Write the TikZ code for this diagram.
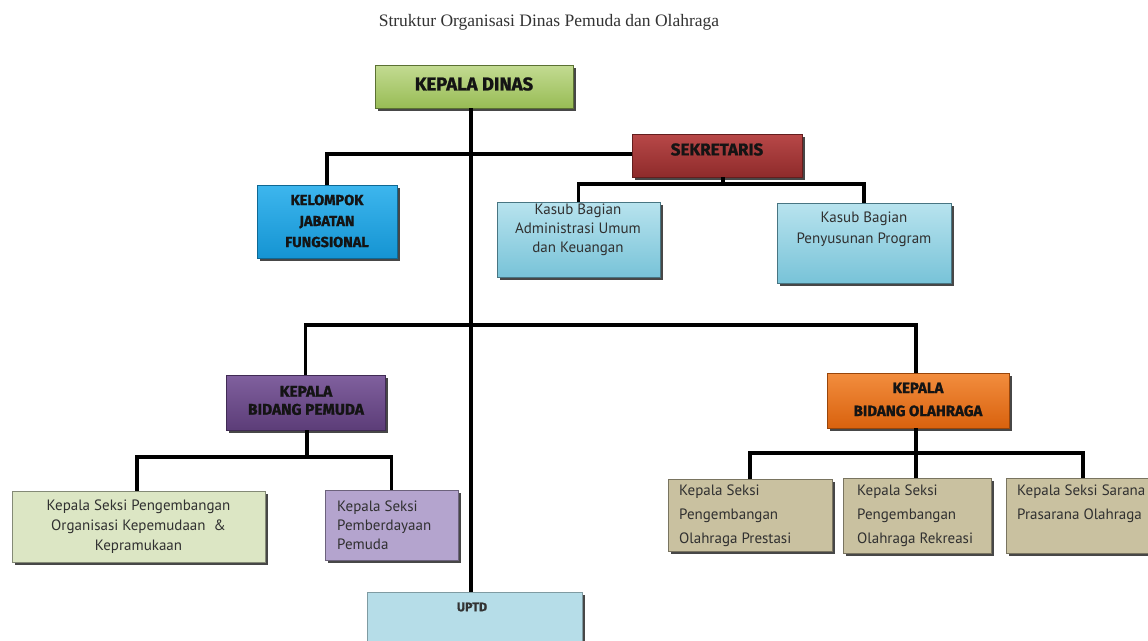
\documentclass[tikz,border=0pt]{standalone}
\usepackage{fontspec}
\setmainfont{PT Sans}
\newfontfamily\hdr{Fira Sans}[BoldFeatures={FakeBold=1.2}]
\newfontfamily\ttl{Liberation Serif}
\usetikzlibrary{shadows,calc}
\definecolor{kdtop}{HTML}{C3DB92}
\definecolor{kdbot}{HTML}{98BC55}
\definecolor{sektop}{HTML}{B84848}
\definecolor{sekbot}{HTML}{8E2B2B}
\definecolor{kjftop}{HTML}{3DB6EE}
\definecolor{kjfbot}{HTML}{1594D2}
\definecolor{kstop}{HTML}{B8E3EE}
\definecolor{ksbot}{HTML}{78C3D8}
\definecolor{kbptop}{HTML}{80609E}
\definecolor{kbpbot}{HTML}{5C3D78}
\definecolor{kbotop}{HTML}{F28D3E}
\definecolor{kbobot}{HTML}{D9620E}
\definecolor{spone}{HTML}{DCE6C4}
\definecolor{sptwo}{HTML}{B4A4CE}
\definecolor{sofill}{HTML}{C9C1A0}
\definecolor{uptdfill}{HTML}{B6DDE8}
\definecolor{txtgray}{HTML}{303030}
\tikzset{
  bx/.style={rectangle, inner sep=0pt, line width=0.5pt,
    drop shadow={shadow xshift=2.5pt, shadow yshift=-2.5pt, fill=black!80, opacity=0.9}},
  hdrtxt/.style={inner sep=0pt, align=center, text=black!92},
  bodytxt/.style={inner sep=0pt, text=txtgray, font=\fontsize{15}{19}\selectfont},
  conn/.style={line width=3.6pt, black},
}
\begin{document}
\begin{tikzpicture}[x=1pt,y=-1pt]
\useasboundingbox (0,0) rectangle (1148,640);
\clip (0,0) rectangle (1148,640);
\fill[white] (0,0) rectangle (1148,640);

\node[inner sep=0pt, text=black!80, font=\ttl\fontsize{17.5}{20}\selectfont] (title) at (549,22) {Struktur Organisasi Dinas Pemuda dan Olahraga};

% boxes
\node[bx, draw=kdbot!60!black, top color=kdtop, bottom color=kdbot, minimum width=198pt, minimum height=43pt] (kd) at (474,86.5) {};
\node[bx, draw=sekbot!70!black, top color=sektop, bottom color=sekbot, minimum width=170pt, minimum height=43pt] (sek) at (717,155.5) {};
\node[bx, draw=kjfbot!70!black, top color=kjftop, bottom color=kjfbot, minimum width=140pt, minimum height=73pt] (kjf) at (327,221.5) {};
\node[bx, draw=ksbot!60!black, top color=kstop, bottom color=ksbot, minimum width=163pt, minimum height=75pt] (ka) at (578.5,239.5) {};
\node[bx, draw=ksbot!60!black, top color=kstop, bottom color=ksbot, minimum width=174pt, minimum height=80pt] (kp) at (864,243) {};
\node[bx, draw=kbpbot!70!black, top color=kbptop, bottom color=kbpbot, minimum width=159pt, minimum height=55pt] (kbp) at (305.5,402.5) {};
\node[bx, draw=kbobot!70!black, top color=kbotop, bottom color=kbobot, minimum width=182pt, minimum height=55pt] (kbo) at (918,400.5) {};
\node[bx, draw=spone!60!black, fill=spone, minimum width=253pt, minimum height=71pt] (sp1) at (138.5,526.5) {};
\node[bx, draw=sptwo!60!black, fill=sptwo, minimum width=133pt, minimum height=70pt] (sp2) at (391.5,525) {};
\node[bx, draw=sofill!60!black, fill=sofill, minimum width=164pt, minimum height=72pt] (so1) at (750,515) {};
\node[bx, draw=sofill!60!black, fill=sofill, minimum width=148pt, minimum height=75pt] (so2) at (917,515.5) {};
\node[bx, draw=sofill!60!black, fill=sofill, minimum width=154pt, minimum height=75pt] (so3) at (1083,515.5) {};
\node[bx, draw=uptdfill!70!black, fill=uptdfill, minimum width=215pt, minimum height=70pt] (uptd) at (474.5,627) {};

% texts
\node[hdrtxt, font=\hdr\bfseries\fontsize{18.5}{20}\selectfont] (kdt) at (474,84) {KEPALA DINAS};
\node[hdrtxt, font=\hdr\bfseries\fontsize{17}{18}\selectfont] (sekt) at (717,149.5) {SEKRETARIS};
\node[hdrtxt, font=\hdr\bfseries\fontsize{14.5}{21}\selectfont] (kjft) at (327,221) {KELOMPOK\\JABATAN\\FUNGSIONAL};
\node[bodytxt, align=center] (kat) at (578,229.5) {Kasub Bagian\\Administrasi Umum\\dan Keuangan};
\node[bodytxt, align=center, font=\fontsize{15}{21}\selectfont] (kpt) at (864,229.5) {Kasub Bagian\\Penyusunan Program};
\node[hdrtxt, font=\hdr\bfseries\fontsize{15.5}{18}\selectfont] (kbpt) at (306,400.5) {KEPALA\\BIDANG PEMUDA};
\node[hdrtxt, font=\hdr\bfseries\fontsize{15}{23}\selectfont] (kbot) at (918,399.5) {KEPALA\\BIDANG OLAHRAGA};
\node[bodytxt, align=center, font=\fontsize{15}{20}\selectfont] (sp1t) at (138.5,527) {Kepala Seksi Pengembangan\\Organisasi Kepemudaan~~\&\\Kepramukaan};
\node[bodytxt, align=left, anchor=west] (sp2t) at (337,525) {Kepala Seksi\\Pemberdayaan\\Pemuda};
\node[bodytxt, align=left, anchor=west, font=\fontsize{15}{24}\selectfont] (so1t) at (679,516) {Kepala Seksi\\Pengembangan\\Olahraga Prestasi};
\node[bodytxt, align=left, anchor=west, font=\fontsize{15}{24}\selectfont] (so2t) at (857,516) {Kepala Seksi\\Pengembangan\\Olahraga Rekreasi};
\node[bodytxt, align=left, anchor=west, font=\fontsize{15}{24}\selectfont] (so3t) at (1017,504) {Kepala Seksi Sarana\\Prasarana Olahraga};
\node[hdrtxt, font=\hdr\bfseries\fontsize{12.5}{13}\selectfont, text=black!80] (uptdt) at (472,607) {UPTD};

% bars
\coordinate (sbar) at (0,184);
\coordinate (bar2) at (0,325);
\coordinate (bar3) at (0,457);
\coordinate (bar4) at (0,453);

% connectors
\draw[conn] ([xshift=-3pt]kd.south) coordinate (m0) -- (m0 |- uptd.north);
\draw[conn] ([yshift=1.5pt]sek.west) -| (kjf.north);
\draw[conn] ([xshift=6pt]sek.south) -- ([xshift=6pt]sek.south |- sbar);
\draw[conn] (ka.north) -- (ka.north |- sbar) -- (kp.north |- sbar) -- (kp.north);
\draw[conn] (kbp.north) -- (kbp.north |- bar2) -- ([xshift=-2pt]kbo.north |- bar2) -- ([xshift=-2pt]kbo.north);
\draw[conn] ([xshift=1.5pt]kbp.south) -- ([xshift=1.5pt]kbp.south |- bar3);
\draw[conn] ([xshift=-1.5pt]sp1.north) -- ([xshift=-1.5pt]sp1.north |- bar3) -- (sp2.north |- bar3) -- (sp2.north);
\draw[conn] ([xshift=-2pt]kbo.south) -- ([xshift=-2pt]kbo.south |- bar4);
\draw[conn] (so1.north) -- (so1.north |- bar4) -- (so3.north |- bar4) -- (so3.north);
\draw[conn] ([xshift=-1pt]so2.north) -- ([xshift=-1pt]so2.north |- bar4);
\end{tikzpicture}
\end{document}
